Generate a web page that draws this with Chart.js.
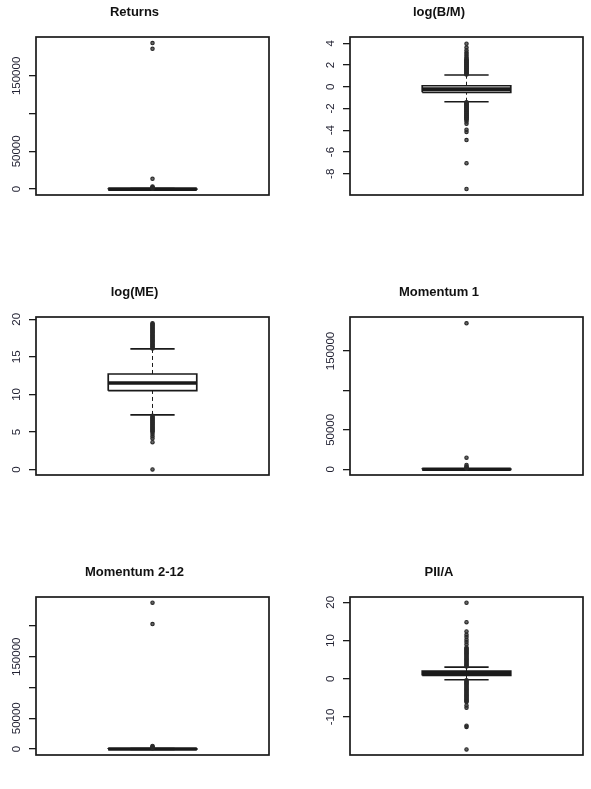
<!DOCTYPE html>
<html>
<head>
<meta charset="utf-8">
<script src="https://cdn.jsdelivr.net/npm/chart.js@4.4.1/dist/chart.umd.min.js"></script>
<style>
html,body{margin:0;padding:0;background:#ffffff;}
body{width:591px;height:789px;position:relative;overflow:hidden;}
canvas{position:absolute;}
</style>
</head>
<body>
<canvas id="c0"></canvas>
<canvas id="c1"></canvas>
<canvas id="c2"></canvas>
<canvas id="c3"></canvas>
<canvas id="c4"></canvas>
<canvas id="c5"></canvas>
<script>
// ---------------- DATA ----------------
const panelTitles = ['Returns', 'log(B/M)', 'log(ME)', 'Momentum 1', 'Momentum 2-12', 'PII/A'];

// box statistics: [lower whisker, Q1, median, Q3, upper whisker]
const returnsStats = [-600, -150, 0, 150, 700];
const returnsOutliers = [900, 1300, 1800, 2400, 3400, 13600, 185800, 193400];
const returnsTicks = [0, 50000, 100000, 150000];
const returnsTickLabels = ['0', '50000', '', '150000'];

const logBMStats = [-1.38, -0.51, -0.22, 0.09, 1.08];
const logBMOutliers = [1.12, 1.18, 1.24, 1.3, 1.36, 1.42, 1.48, 1.54, 1.6, 1.66, 1.72, 1.78, 1.84, 1.9, 1.96, 2.02, 2.08, 2.14, 2.2, 2.26, 2.32, 2.38, 2.44, 2.5, 2.56,
  2.7, 2.85, 3.0, 3.15, 3.35, 3.6, 3.95,
  -1.42, -1.48, -1.54, -1.6, -1.66, -1.72, -1.78, -1.84, -1.9, -1.96, -2.02, -2.08, -2.14, -2.2, -2.26, -2.32, -2.38, -2.44, -2.5, -2.56, -2.62, -2.68, -2.74, -2.8, -2.86, -2.92, -2.98, -3.04,
  -3.2, -3.4, -3.95, -4.15, -4.9, -7.03, -9.4];
const logBMTicks = [-8, -6, -4, -2, 0, 2, 4];
const logBMTickLabels = ['-8', '-6', '-4', '-2', '0', '2', '4'];

const logMEStats = [7.27, 10.5, 11.52, 12.72, 16.05];
const logMEOutliers = [16.12, 16.24, 16.36, 16.48, 16.6, 16.72, 16.84, 16.96, 17.08, 17.2, 17.32, 17.44, 17.56, 17.68, 17.8, 17.92, 18.04, 18.16, 18.28, 18.4, 18.52, 18.64, 18.76, 18.88, 19.0, 19.12, 19.24, 19.36, 19.47,
  7.15, 7.03, 6.91, 6.79, 6.67, 6.55, 6.43, 6.31, 6.19, 6.07, 5.95, 5.83, 5.71, 5.59, 5.47, 5.35, 5.23, 5.11, 5.0, 4.75, 4.45, 4.15, 3.65, 0.02];
const logMETicks = [0, 5, 10, 15, 20];
const logMETickLabels = ['0', '5', '10', '15', '20'];

const mom1Stats = [-500, -120, 0, 120, 600];
const mom1Outliers = [900, 1500, 2300, 3600, 5450, 14700, 185100];
const mom1Ticks = [0, 50000, 100000, 150000];
const mom1TickLabels = ['0', '50000', '', '150000'];

const mom212Stats = [-600, -150, 0, 150, 700];
const mom212Outliers = [1000, 1800, 2800, 3800, 4900, 203200, 237900];
const mom212Ticks = [0, 50000, 100000, 150000, 200000];
const mom212TickLabels = ['0', '50000', '', '150000', ''];

const piiaStats = [-0.26, 0.87, 1.45, 2.0, 3.05];
const piiaOutliers = [3.2, 3.45, 3.7, 3.95, 4.2, 4.45, 4.7, 4.95, 5.2, 5.45, 5.7, 5.95, 6.2, 6.45, 6.7, 6.95, 7.2, 7.45, 7.7, 7.95, 8.2,
  9.0, 9.6, 10.2, 10.9, 11.5, 12.4, 14.8, 19.9,
  -0.4, -0.65, -0.9, -1.15, -1.4, -1.65, -1.9, -2.15, -2.4, -2.65, -2.9, -3.15, -3.4, -3.65, -3.9, -4.15, -4.4, -4.65, -4.9, -5.15, -5.4, -5.65, -5.9, -6.05,
  -7.0, -7.6, -12.3, -12.6, -18.5];
const piiaTicks = [-10, 0, 10, 20];
const piiaTickLabels = ['-10', '0', '10', '20'];

// ---------------- LAYOUT ----------------
const panels = [
  {stats: returnsStats, out: returnsOutliers, ticks: returnsTicks, labels: returnsTickLabels, yMin: -7800, yMax: 201500, col: 0, row: 0},
  {stats: logBMStats, out: logBMOutliers, ticks: logBMTicks, labels: logBMTickLabels, yMin: -9.95, yMax: 4.57, col: 1, row: 0},
  {stats: logMEStats, out: logMEOutliers, ticks: logMETicks, labels: logMETickLabels, yMin: -0.72, yMax: 20.3, col: 0, row: 1},
  {stats: mom1Stats, out: mom1Outliers, ticks: mom1Ticks, labels: mom1TickLabels, yMin: -7300, yMax: 193100, col: 1, row: 1},
  {stats: mom212Stats, out: mom212Outliers, ticks: mom212Ticks, labels: mom212TickLabels, yMin: -9800, yMax: 247200, col: 0, row: 2},
  {stats: piiaStats, out: piiaOutliers, ticks: piiaTicks, labels: piiaTickLabels, yMin: -19.95, yMax: 21.4, col: 1, row: 2}
];
const colGeom = [
  {left: 0, width: 295, axisW: 36, padRight: 26},
  {left: 295, width: 296, axisW: 55, padRight: 8}
];
const rowFrameTop = [37, 317, 597];
const FRAME_H = 158;
const TOP_OFF = 37;
const BOT_PAD = 20;

const INK = '#1a1a1a';
const BOX_L = 0.31, BOX_R = 0.69, CAP_L = 0.405, CAP_R = 0.595, MID = 0.5;

const framePlugin = {
  id: 'rFrame',
  afterDraw(chart) {
    const {left, top, right, bottom} = chart.chartArea;
    const ctx = chart.ctx;
    ctx.save();
    ctx.strokeStyle = INK;
    ctx.lineWidth = 1.7;
    ctx.strokeRect(left, top, right - left, bottom - top);
    ctx.restore();
  }
};

const tickLabelPlugin = {
  id: 'rTickLabels',
  afterDraw(chart) {
    const s = chart.scales.y;
    const ctx = chart.ctx;
    ctx.save();
    ctx.font = '11.5px "Liberation Sans", Arial, sans-serif';
    ctx.fillStyle = '#222233';
    ctx.textAlign = 'center';
    ctx.textBaseline = 'middle';
    s.ticks.forEach(t => {
      if (!t.label) return;
      const y = s.getPixelForValue(t.value);
      ctx.save();
      ctx.translate(chart.chartArea.left - 19.3, y);
      ctx.rotate(-Math.PI / 2);
      ctx.fillText(t.label, 0, 0);
      ctx.restore();
    });
    ctx.restore();
  }
};

function lineDs(points, width, dash) {
  return {
    data: points, showLine: true, borderColor: INK, borderWidth: width,
    borderDash: dash || [], pointRadius: 0, fill: false, tension: 0, order: 2
  };
}

panels.forEach((p, i) => {
  const cg = colGeom[p.col];
  const frameTop = rowFrameTop[p.row];
  const cv = document.getElementById('c' + i);
  const h = TOP_OFF + FRAME_H + BOT_PAD;
  cv.width = cg.width; cv.height = h;
  cv.style.left = cg.left + 'px';
  cv.style.top = (frameTop - TOP_OFF) + 'px';
  cv.style.width = cg.width + 'px';
  cv.style.height = h + 'px';

  const [lo, q1, med, q3, hi] = p.stats;
  const datasets = [
    lineDs([{x: MID, y: q3}, {x: MID, y: hi}], 1, [4, 3]),
    lineDs([{x: MID, y: lo}, {x: MID, y: q1}], 1, [4, 3]),
    lineDs([{x: BOX_L, y: q1}, {x: BOX_R, y: q1}, {x: BOX_R, y: q3}, {x: BOX_L, y: q3}, {x: BOX_L, y: q1}], 1.7),
    lineDs([{x: BOX_L, y: med}, {x: BOX_R, y: med}], 3.6),
    lineDs([{x: CAP_L, y: hi}, {x: CAP_R, y: hi}], 1.7),
    lineDs([{x: CAP_L, y: lo}, {x: CAP_R, y: lo}], 1.7),
    {
      data: p.out.map(v => ({x: MID, y: v})), showLine: false,
      pointStyle: 'circle', pointRadius: 1.7, pointBorderWidth: 1.1,
      pointBorderColor: '#2a2a2a', pointBackgroundColor: 'rgba(40,40,40,0.7)', order: 1
    }
  ];

  new Chart(cv, {
    type: 'scatter',
    data: {datasets},
    options: {
      responsive: false, animation: false, devicePixelRatio: 1,
      layout: {padding: {left: 0, right: cg.padRight, top: 0, bottom: BOT_PAD}},
      plugins: {
        legend: {display: false},
        tooltip: {enabled: false},
        title: {
          display: true, text: panelTitles[i], color: '#111111',
          font: {family: '"Liberation Sans", Arial, sans-serif', size: 13, weight: 'bold', lineHeight: 1.2},
          padding: {top: 4.5, bottom: 16.9}
        }
      },
      scales: {
        x: {type: 'linear', min: 0, max: 1, display: false},
        y: {
          type: 'linear', min: p.yMin, max: p.yMax,
          afterBuildTicks: (scale) => { scale.ticks = p.ticks.map(v => ({value: v})); },
          afterFit: (scale) => { scale.width = cg.axisW; },
          ticks: {display: false, callback: (v, idx) => p.labels[idx]},
          grid: {display: true, drawOnChartArea: false, drawTicks: true, tickLength: 7, color: INK, lineWidth: 1.3},
          border: {display: false}
        }
      }
    },
    plugins: [framePlugin, tickLabelPlugin]
  });
});
</script>
</body>
</html>
